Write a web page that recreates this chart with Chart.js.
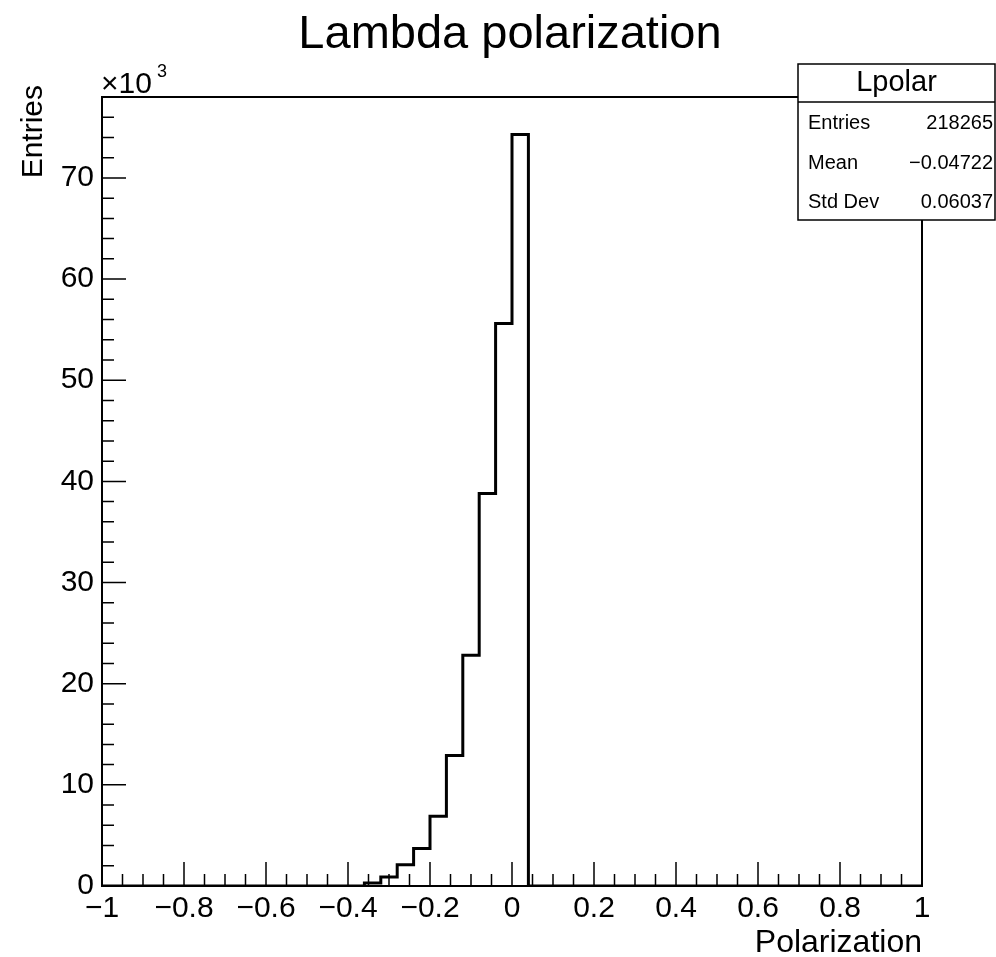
<!DOCTYPE html>
<html>
<head>
<meta charset="utf-8">
<style>
  html, body { margin: 0; padding: 0; background: #fff; }
  canvas { display: block; }
</style>
<script src="https://cdn.jsdelivr.net/npm/chart.js@4/dist/chart.umd.min.js"></script>
</head>
<body>
<canvas id="lpolar" width="996" height="957"></canvas>
<script>
// Histogram binning (50 bins from -1 to 1)
const xMin = -1;
const xMax = 1;
const binWidth = 0.04;

// Entries per bin
const counts = [
  0, 0, 0, 0, 0, 0, 0, 0, 0, 0,
  0, 0, 0, 0, 0, 0, 300, 900, 2100, 3700,
  6900, 12900, 22800, 38800, 55600, 74300, 0, 0, 0, 0,
  0, 0, 0, 0, 0, 0, 0, 0, 0, 0,
  0, 0, 0, 0, 0, 0, 0, 0, 0, 0
];

const yMax = 78000;
const yStep = 10000;
const yTicks = [0, 10000, 20000, 30000, 40000, 50000, 60000, 70000];
const xTicks = [-1, -0.8, -0.6, -0.4, -0.2, 0, 0.2, 0.4, 0.6, 0.8, 1];

const statsLabels = ['Entries', 'Mean', 'Std Dev'];
const statsValues = ['218265', '\u22120.04722', '0.06037'];

const FONT = '"Liberation Sans", Arial, Helvetica, sans-serif';

function fmt(v) {
  const r = Math.round(v * 10) / 10;
  return String(r).replace('-', '\u2212');
}

// step points at each low edge, plus the last high edge
const points = counts.map((c, i) => ({ x: xMin + i * binWidth, y: c }));
points.push({ x: xMax, y: counts[counts.length - 1] });

// frame, inside ticks, titles and the stats box (ROOT style)
const rootDecor = {
  id: 'rootDecor',
  afterDraw(chart) {
    const { ctx, chartArea: a, scales: { x, y } } = chart;
    ctx.save();
    ctx.strokeStyle = '#000';
    ctx.fillStyle = '#000';

    // ticks pointing into the frame
    ctx.lineWidth = 1.5;
    ctx.beginPath();
    for (let k = 0; k <= 40; k++) {
      const px = x.getPixelForValue(xMin + k * 0.05);
      const len = k % 4 === 0 ? 24 : 12;
      ctx.moveTo(px, a.bottom);
      ctx.lineTo(px, a.bottom - len);
    }
    for (let v = 0; v <= yMax; v += 2000) {
      const py = y.getPixelForValue(v);
      const len = v % yStep === 0 ? 24 : 12;
      ctx.moveTo(a.left, py);
      ctx.lineTo(a.left + len, py);
    }
    ctx.stroke();

    // frame
    ctx.lineWidth = 2;
    ctx.strokeRect(a.left, a.top, a.right - a.left, a.bottom - a.top);

    // title
    ctx.font = '47px ' + FONT;
    ctx.textAlign = 'center';
    ctx.textBaseline = 'alphabetic';
    ctx.fillText('Lambda polarization', 510, 48);

    // axis titles
    ctx.font = '32px ' + FONT;
    ctx.textAlign = 'right';
    ctx.fillText('Polarization', a.right, 952);

    ctx.save();
    ctx.font = '30px ' + FONT;
    ctx.translate(42, 85);
    ctx.rotate(-Math.PI / 2);
    ctx.textAlign = 'right';
    ctx.fillText('Entries', 0, 0);
    ctx.restore();

    // x10^3 multiplier
    ctx.textAlign = 'left';
    ctx.font = '30px ' + FONT;
    ctx.fillText('\u00d710', 101, 93);
    ctx.font = '18px ' + FONT;
    ctx.fillText('3', 157, 77);

    // stats box
    const bx = 798, by = 64, bw = 197, bh = 156, sep = 102;
    ctx.fillStyle = '#fff';
    ctx.fillRect(bx, by, bw, bh);
    ctx.lineWidth = 1.5;
    ctx.strokeRect(bx, by, bw, bh);
    ctx.beginPath();
    ctx.moveTo(bx, sep);
    ctx.lineTo(bx + bw, sep);
    ctx.stroke();

    ctx.fillStyle = '#000';
    ctx.textBaseline = 'middle';
    ctx.textAlign = 'center';
    ctx.font = '29px ' + FONT;
    ctx.fillText('Lpolar', bx + bw / 2, 83);
    ctx.font = '20px ' + FONT;
    const rowH = (by + bh - sep) / statsLabels.length;
    statsLabels.forEach((lab, i) => {
      const cy = sep + rowH * (i + 0.5) + 2;
      ctx.textAlign = 'left';
      ctx.fillText(lab, bx + 10, cy);
      ctx.textAlign = 'right';
      ctx.fillText(statsValues[i], bx + bw - 2, cy);
    });

    ctx.restore();
  }
};

new Chart(document.getElementById('lpolar'), {
  type: 'line',
  data: {
    datasets: [{
      label: 'Lpolar',
      data: points,
      stepped: 'before',
      borderColor: '#000',
      borderWidth: 3,
      pointRadius: 0,
      fill: false
    }]
  },
  options: {
    responsive: false,
    animation: false,
    layout: { padding: { left: 0, top: 97, right: 74, bottom: 0 } },
    plugins: {
      legend: { display: false },
      tooltip: { enabled: false },
      title: { display: false }
    },
    scales: {
      x: {
        type: 'linear',
        min: xMin,
        max: xMax,
        grid: { display: false, drawTicks: false },
        border: { display: false },
        afterFit: s => { s.height = 71; },
        afterBuildTicks: s => { s.ticks = xTicks.map(v => ({ value: v })); },
        ticks: {
          padding: 5,
          maxRotation: 0,
          autoSkip: false,
          color: '#000',
          font: { family: FONT, size: 30 },
          callback: v => fmt(v)
        }
      },
      y: {
        type: 'linear',
        min: 0,
        max: yMax,
        grid: { display: false, drawTicks: false },
        border: { display: false },
        afterFit: s => { s.width = 102; },
        afterBuildTicks: s => { s.ticks = yTicks.map(v => ({ value: v })); },
        ticks: {
          padding: 8,
          autoSkip: false,
          color: '#000',
          font: { family: FONT, size: 30 },
          callback: v => String(v / 1000)
        }
      }
    }
  },
  plugins: [rootDecor]
});
</script>
</body>
</html>
